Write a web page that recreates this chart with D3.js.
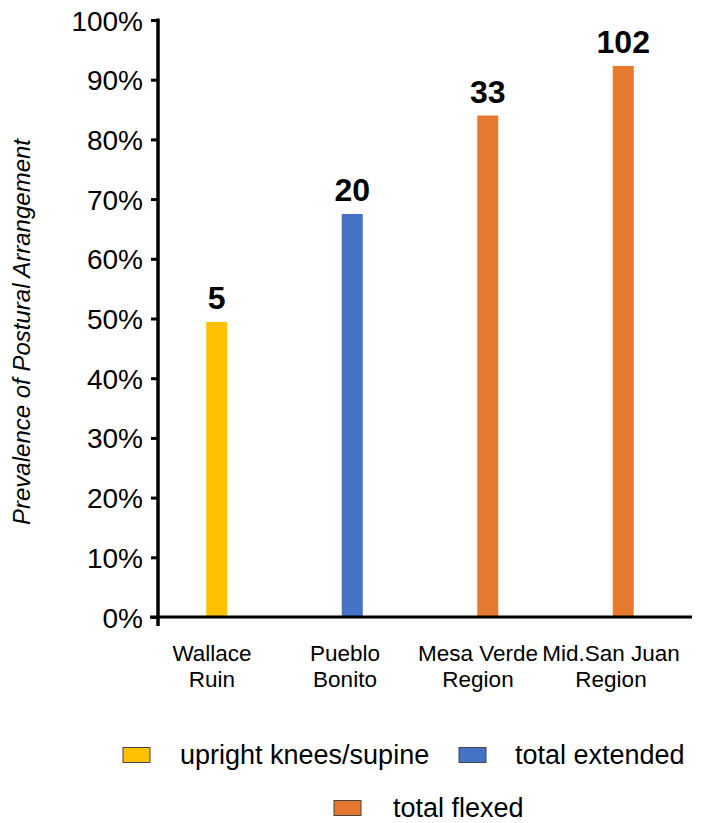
<!DOCTYPE html>
<html>
<head>
<meta charset="utf-8">
<script src="https://cdn.jsdelivr.net/npm/d3@7/dist/d3.min.js"></script>
<style>
  html, body { margin: 0; padding: 0; background: #fff; }
  svg { display: block; font-family: "Liberation Sans", Arial, sans-serif; }
</style>
</head>
<body>
<svg id="chart" width="715" height="823"></svg>
<script>
// Burial posture data: share of individuals in the dominant arrangement per site
const categories = ["Wallace Ruin", "Pueblo Bonito", "Mesa Verde Region", "Mid.San Juan Region"];
const labelLines = [["Wallace", "Ruin"], ["Pueblo", "Bonito"], ["Mesa Verde", "Region"], ["Mid.San Juan", "Region"]];
const seriesOf = ["upright knees/supine", "total extended", "total flexed", "total flexed"];
const prevalence = [0.494, 0.675, 0.840, 0.923];
const counts = [5, 20, 33, 102];
const seriesNames = ["upright knees/supine", "total extended", "total flexed"];
const seriesColors = ["#FFC000", "#4472C4", "#E5792F"];
const yTicks = [0, 0.1, 0.2, 0.3, 0.4, 0.5, 0.6, 0.7, 0.8, 0.9, 1.0];

const svg = d3.select("#chart");
const color = d3.scaleOrdinal().domain(seriesNames).range(seriesColors);

const x = d3.scaleBand().domain(categories).range([149, 691]).padding(0);
// category captions sit on their own evenly spaced anchors
const xLabel = d3.scalePoint().domain(categories).range([212, 611]);
const y = d3.scaleLinear().domain([0, 1]).range([617, 20]);
const axisX = 158;
const barW = 21;

// Y axis
const yAxis = d3.axisLeft(y)
  .tickValues(yTicks)
  .tickFormat(d3.format(".0%"))
  .tickSize(7)
  .tickPadding(8)
  .tickSizeOuter(0);

const gy = svg.append("g")
  .attr("transform", `translate(${axisX},0)`)
  .call(yAxis);
gy.select(".domain").remove();
gy.selectAll(".tick line").attr("stroke", "#000").attr("stroke-width", 3);
gy.selectAll(".tick text")
  .attr("fill", "#000")
  .style("font-size", "28px")
  .attr("dy", "0.36em");

// vertical axis line (runs slightly below the baseline)
svg.append("line")
  .attr("x1", axisX).attr("x2", axisX)
  .attr("y1", y(1) - 1.5).attr("y2", y(0) + 9)
  .attr("stroke", "#000").attr("stroke-width", 3.5);

// Bars
svg.append("g").selectAll("rect")
  .data(categories)
  .join("rect")
  .attr("x", (d) => x(d) + x.bandwidth() / 2 - barW / 2)
  .attr("width", barW)
  .attr("y", (d, i) => y(prevalence[i]))
  .attr("height", (d, i) => y(0) - y(prevalence[i]))
  .attr("fill", (d, i) => color(seriesOf[i]));

// Count labels above bars
svg.append("g").selectAll("text")
  .data(categories)
  .join("text")
  .attr("x", (d) => x(d) + x.bandwidth() / 2)
  .attr("y", (d, i) => y(prevalence[i]) - 13)
  .attr("text-anchor", "middle")
  .style("font-size", "32px")
  .style("font-weight", "bold")
  .attr("fill", "#000")
  .text((d, i) => counts[i]);

// Baseline
svg.append("line")
  .attr("x1", axisX - 8).attr("x2", 692)
  .attr("y1", y(0)).attr("y2", y(0))
  .attr("stroke", "#000").attr("stroke-width", 3);

// Category labels
const xl = svg.append("g").selectAll("text")
  .data(categories)
  .join("text")
  .attr("x", (d) => xLabel(d))
  .attr("y", 661)
  .attr("text-anchor", "middle")
  .style("font-size", "22.5px")
  .attr("fill", "#000");
xl.selectAll("tspan")
  .data((d, i) => labelLines[i])
  .join("tspan")
  .attr("x", function () { return d3.select(this.parentNode).attr("x"); })
  .attr("dy", (d, j) => j === 0 ? 0 : 26)
  .text((d) => d);

// Y axis title
svg.append("text")
  .attr("transform", "translate(30,332) rotate(-90)")
  .attr("text-anchor", "middle")
  .style("font-size", "24px")
  .style("font-style", "italic")
  .attr("fill", "#000")
  .text("Prevalence of Postural Arrangement");

// Legend
const legendItems = [
  { name: seriesNames[0], sx: 123, tx: 180, cy: 755 },
  { name: seriesNames[1], sx: 459, tx: 515, cy: 755 },
  { name: seriesNames[2], sx: 334, tx: 393, cy: 808 }
];
const lg = svg.append("g").selectAll("g")
  .data(legendItems)
  .join("g");
lg.append("rect")
  .attr("x", (d) => d.sx)
  .attr("y", (d) => d.cy - 7.5)
  .attr("width", 27)
  .attr("height", 15)
  .attr("fill", (d) => color(d.name))
  .attr("stroke", "#444")
  .attr("stroke-width", 1);
lg.append("text")
  .attr("x", (d) => d.tx)
  .attr("y", (d) => d.cy)
  .attr("dy", "0.35em")
  .style("font-size", "27px")
  .attr("fill", "#000")
  .text((d) => d.name);
</script>
</body>
</html>
